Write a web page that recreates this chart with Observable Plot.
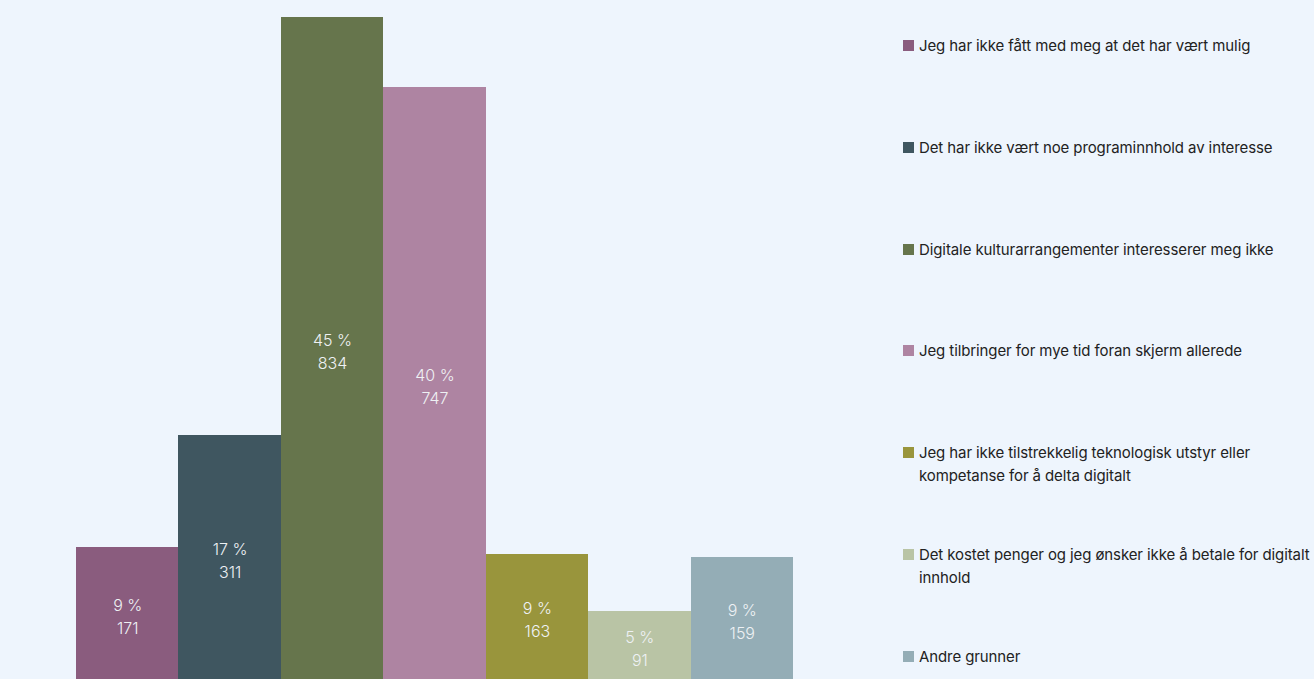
<!DOCTYPE html>
<html>
<head>
<meta charset="utf-8">
<script src="https://cdn.jsdelivr.net/npm/d3@7"></script>
<script src="https://cdn.jsdelivr.net/npm/@observablehq/plot@0.6"></script>
<style>
  html, body { margin: 0; padding: 0; background: #eef5fd; overflow: hidden; }
  #wrap { position: relative; width: 1314px; height: 679px; overflow: hidden; }
  #chart { position: absolute; left: 0; top: 0; }
  #legend { position: absolute; left: 903px; top: 0; width: 411px; font-family: Inter, "Liberation Sans", sans-serif; font-size: 15px; letter-spacing: -0.1px; color: #222; }
  .item { position: absolute; left: 0; display: flex; align-items: flex-start; }
  .sw { width: 11px; height: 11px; margin-top: 6px; margin-right: 5px; flex: none; }
  .lab { width: 400px; line-height: 23px; }
</style>
</head>
<body>
<div id="wrap">
  <div id="chart"></div>
  <div id="legend"></div>
</div>
<script>
const categories = [
  "Jeg har ikke fått med meg at det har vært mulig",
  "Det har ikke vært noe programinnhold av interesse",
  "Digitale kulturarrangementer interesserer meg ikke",
  "Jeg tilbringer for mye tid foran skjerm allerede",
  "Jeg har ikke tilstrekkelig teknologisk utstyr eller kompetanse for å delta digitalt",
  "Det kostet penger og jeg ønsker ikke å betale for digitalt innhold",
  "Andre grunner"
];
const counts = [171, 311, 834, 747, 163, 91, 159];
const percents = [9, 17, 45, 40, 9, 5, 9];
const colors = ["#8a5c7e", "#3f5660", "#66754c", "#ae84a2", "#99953c", "#b9c4a5", "#94adb6"];

const data = categories.map((c, i) => ({category: c, count: counts[i], pct: percents[i]}));

const chart = Plot.plot({
  width: 895,
  height: 684,
  marginTop: 17,
  marginBottom: 0,
  marginLeft: 76,
  marginRight: 102,
  style: {background: "transparent", fontFamily: "Inter, 'Liberation Sans', sans-serif"},
  x: {domain: categories, paddingInner: 0, paddingOuter: 0, round: false, axis: null},
  y: {domain: [0, d3.max(counts)], axis: null},
  color: {domain: categories, range: colors},
  marks: [
    Plot.barY(data, {x: "category", y: "count", fill: "category", shapeRendering: "crispEdges"}),
    Plot.text(data, {
      x: "category",
      y: d => d.count / 2,
      text: d => `${d.pct} %\n${d.count}`,
      fill: "#eef1f4",
      fontSize: 16,
      fontWeight: 300,
      lineHeight: 1.45,
      lineAnchor: "middle",
      dy: -1
    })
  ]
});
document.getElementById("chart").appendChild(chart);

const legend = document.getElementById("legend");
const firstY = 34;
const step = 101.8;
categories.forEach((c, i) => {
  const it = document.createElement("div");
  it.className = "item";
  it.style.top = (firstY + i * step) + "px";
  const sw = document.createElement("div");
  sw.className = "sw";
  sw.style.background = colors[i];
  const lab = document.createElement("div");
  lab.className = "lab";
  lab.textContent = c;
  it.appendChild(sw);
  it.appendChild(lab);
  legend.appendChild(it);
});
</script>
</body>
</html>
